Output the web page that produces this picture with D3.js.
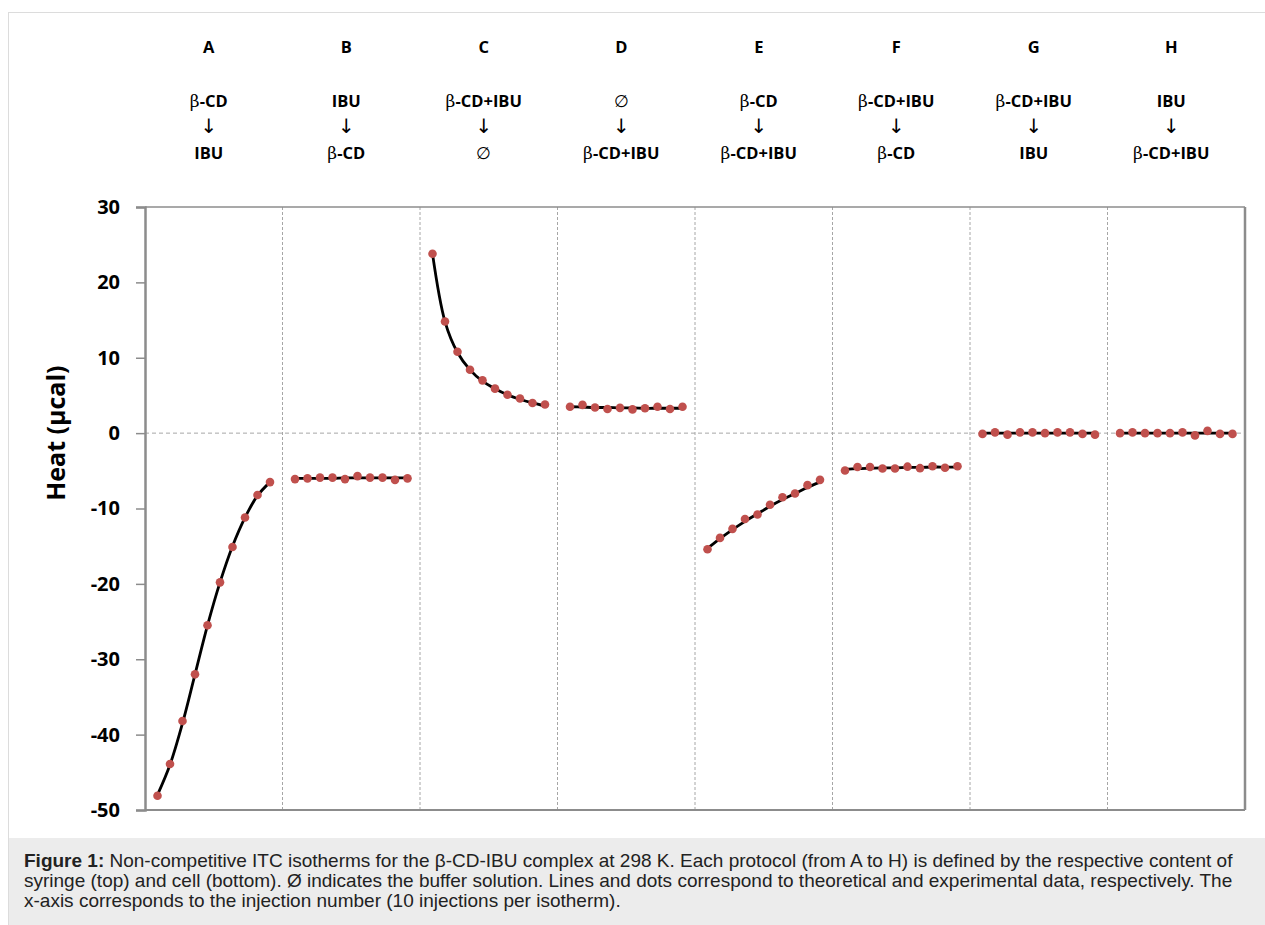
<!DOCTYPE html>
<html lang="en">
<head>
<meta charset="UTF-8" />
<title>Non-competitive ITC isotherms</title>
<script src="https://d3js.org/d3.v7.min.js"></script>
<style>
  body { margin: 0; background: #fff; }
  .tick text { font-family: "Open Sans", sans-serif; font-weight: bold; font-size: 20px; fill: #000; }
</style>
</head>
<body>
<div id="chart"></div>
<script>
// protocol letters, syringe content (top) and cell content (bottom)
const panels = ["A", "B", "C", "D", "E", "F", "G", "H"];
const syringe = ["β-CD", "IBU", "β-CD+IBU", "∅", "β-CD", "β-CD+IBU", "β-CD+IBU", "IBU"];
const cell = ["IBU", "β-CD", "∅", "β-CD+IBU", "β-CD+IBU", "β-CD", "IBU", "β-CD+IBU"];

const injections = [1, 2, 3, 4, 5, 6, 7, 8, 9, 10];
const yTicks = [30, 20, 10, 0, -10, -20, -30, -40, -50];

// experimental (dots)
const expA = [-48.1, -43.9, -38.2, -32.0, -25.5, -19.8, -15.1, -11.2, -8.2, -6.5];
const expB = [-6.1, -6.0, -5.9, -5.9, -6.1, -5.7, -5.9, -5.9, -6.2, -6.0];
const expC = [23.8, 14.8, 10.8, 8.4, 7.0, 5.9, 5.1, 4.6, 4.0, 3.8];
const expD = [3.5, 3.75, 3.4, 3.2, 3.35, 3.15, 3.3, 3.5, 3.2, 3.5];
const expE = [-15.4, -13.9, -12.7, -11.4, -10.8, -9.5, -8.5, -8.0, -6.9, -6.2];
const expF = [-4.95, -4.5, -4.5, -4.7, -4.7, -4.45, -4.65, -4.4, -4.6, -4.4];
const expG = [-0.1, 0.1, -0.2, 0.1, 0.1, 0.0, 0.1, 0.1, -0.1, -0.2];
const expH = [0.0, 0.1, 0.0, 0.0, 0.0, 0.1, -0.3, 0.3, -0.1, -0.1];

// theoretical (lines)
const fitA = [-48.0, -44.0, -38.5, -32.0, -25.5, -19.8, -15.0, -11.2, -8.3, -6.5];
const fitB = [-6.0, -6.0, -6.0, -6.0, -5.95, -5.95, -5.95, -5.95, -5.95, -5.95];
const fitC = [23.8, 14.8, 10.7, 8.4, 6.9, 5.9, 5.1, 4.5, 4.0, 3.6];
const fitD = [3.5, 3.45, 3.4, 3.4, 3.35, 3.35, 3.3, 3.3, 3.3, 3.3];
const fitE = [-15.3, -14.0, -12.8, -11.7, -10.7, -9.7, -8.8, -8.0, -7.2, -6.5];
const fitF = [-4.8, -4.7, -4.65, -4.6, -4.6, -4.55, -4.55, -4.5, -4.5, -4.5];
const fitG = [0.0, 0.0, 0.0, 0.0, 0.0, 0.0, 0.0, 0.0, 0.0, 0.0];
const fitH = [0.0, 0.0, 0.0, 0.0, 0.0, 0.0, 0.0, 0.0, 0.0, 0.0];

const expAll = [expA, expB, expC, expD, expE, expF, expG, expH];
const fitAll = [fitA, fitB, fitC, fitD, fitE, fitF, fitG, fitH];

const W = 1265, H = 925;
const plotLeft = 145, plotRight = 1245, plotTop = 207, plotBottom = 810;
const slot = 11; // x units per protocol

const svg = d3.select("#chart").append("svg")
  .attr("width", W).attr("height", H);

// outer frame and caption box
svg.append("rect").attr("x", 8.5).attr("y", 12.5).attr("width", W).attr("height", H)
  .attr("fill", "#fff").attr("stroke", "#dcdcdc");
svg.append("rect").attr("x", 9).attr("y", 838).attr("width", W).attr("height", H - 838)
  .attr("fill", "#ececec");

const x = d3.scaleLinear().domain([0, panels.length * slot]).range([plotLeft, plotRight]);
const y = d3.scaleLinear().domain([-50, 30]).range([plotBottom, plotTop]);

// dashed gridlines: panel dividers and zero line
svg.append("g").selectAll("line")
  .data(d3.range(1, panels.length))
  .enter().append("line")
  .attr("x1", d => x(d * slot)).attr("x2", d => x(d * slot))
  .attr("y1", plotTop).attr("y2", plotBottom)
  .attr("stroke", "#a6a6a6").attr("stroke-width", 1).attr("stroke-dasharray", "3,2");
svg.append("line")
  .attr("x1", plotLeft).attr("x2", plotRight).attr("y1", y(0)).attr("y2", y(0))
  .attr("stroke", "#a6a6a6").attr("stroke-width", 1).attr("stroke-dasharray", "4,3");

// plot border
svg.append("line").attr("x1", plotLeft).attr("x2", plotRight).attr("y1", plotTop).attr("y2", plotTop)
  .attr("stroke", "#8c8c8c").attr("stroke-width", 1.5);
svg.append("line").attr("x1", plotLeft).attr("x2", plotRight).attr("y1", plotBottom).attr("y2", plotBottom)
  .attr("stroke", "#8c8c8c").attr("stroke-width", 2);
svg.append("line").attr("x1", plotRight).attr("x2", plotRight).attr("y1", plotTop).attr("y2", plotBottom)
  .attr("stroke", "#8c8c8c").attr("stroke-width", 2.5);

// y axis
const yAxis = svg.append("g")
  .attr("transform", `translate(${plotLeft},0)`)
  .call(d3.axisLeft(y).tickValues(yTicks).tickSize(9).tickPadding(16).tickFormat(d => String(d)));
yAxis.select(".domain").attr("stroke", "#8c8c8c").attr("stroke-width", 2.5);
yAxis.selectAll(".tick line").attr("stroke", "#8c8c8c").attr("stroke-width", 1.5);

svg.append("text")
  .attr("transform", `translate(65,${y(0)}) rotate(-90)`)
  .attr("text-anchor", "middle")
  .style("font-family", "'Open Sans', sans-serif").style("font-weight", "bold").style("font-size", "25px")
  .text("Heat (μcal)");

// series
const line = d3.line()
  .x(d => x(d.x)).y(d => y(d.v))
  .curve(d3.curveCatmullRom.alpha(0.5));

panels.forEach((p, k) => {
  const fit = fitAll[k].map((v, i) => ({ x: k * slot + injections[i], v }));
  const exp = expAll[k].map((v, i) => ({ x: k * slot + injections[i], v }));
  svg.append("path").datum(fit)
    .attr("d", line).attr("fill", "none")
    .attr("stroke", "#000").attr("stroke-width", 2.8);
  svg.append("g").selectAll("circle")
    .data(exp).enter().append("circle")
    .attr("cx", d => x(d.x)).attr("cy", d => y(d.v)).attr("r", 4.3)
    .attr("fill", "#c0504d");
});

// header labels
function addLabel(g, yPos, str) {
  const t = g.append("text").attr("y", yPos).attr("text-anchor", "middle")
    .style("font-family", "'Open Sans', sans-serif").style("font-weight", "bold").style("font-size", "16.5px");
  str.split(/(β|∅)/).filter(s => s.length).forEach(s => {
    const ts = t.append("tspan").text(s);
    if (s === "β" || s === "∅") ts.style("font-family", "'DejaVu Serif', serif").style("font-weight", "normal").style("font-size", "17px");
  });
}
panels.forEach((p, k) => {
  const g = svg.append("g").attr("transform", `translate(${x(k * slot + slot / 2) - 5},0)`);
  addLabel(g, 53, p);
  addLabel(g, 107, syringe[k]);
  g.append("text").attr("y", 133).attr("text-anchor", "middle")
    .style("font-family", "'DejaVu Sans', sans-serif").style("font-size", "20px").text("↓");
  addLabel(g, 159, cell[k]);
});

// caption
const cap = svg.append("g").style("font-family", "'Liberation Sans', Arial, sans-serif").style("font-size", "19px").attr("fill", "#222");
const l1 = cap.append("text").attr("x", 24).attr("y", 867);
l1.append("tspan").style("font-weight", "bold").text("Figure 1:");
l1.append("tspan").text(" Non-competitive ITC isotherms for the β-CD-IBU complex at 298 K. Each protocol (from A to H) is defined by the respective content of");
cap.append("text").attr("x", 24).attr("y", 887)
  .text("syringe (top) and cell (bottom). Ø indicates the buffer solution. Lines and dots correspond to theoretical and experimental data, respectively. The");
cap.append("text").attr("x", 24).attr("y", 907)
  .text("x-axis corresponds to the injection number (10 injections per isotherm).");
</script>
</body>
</html>
